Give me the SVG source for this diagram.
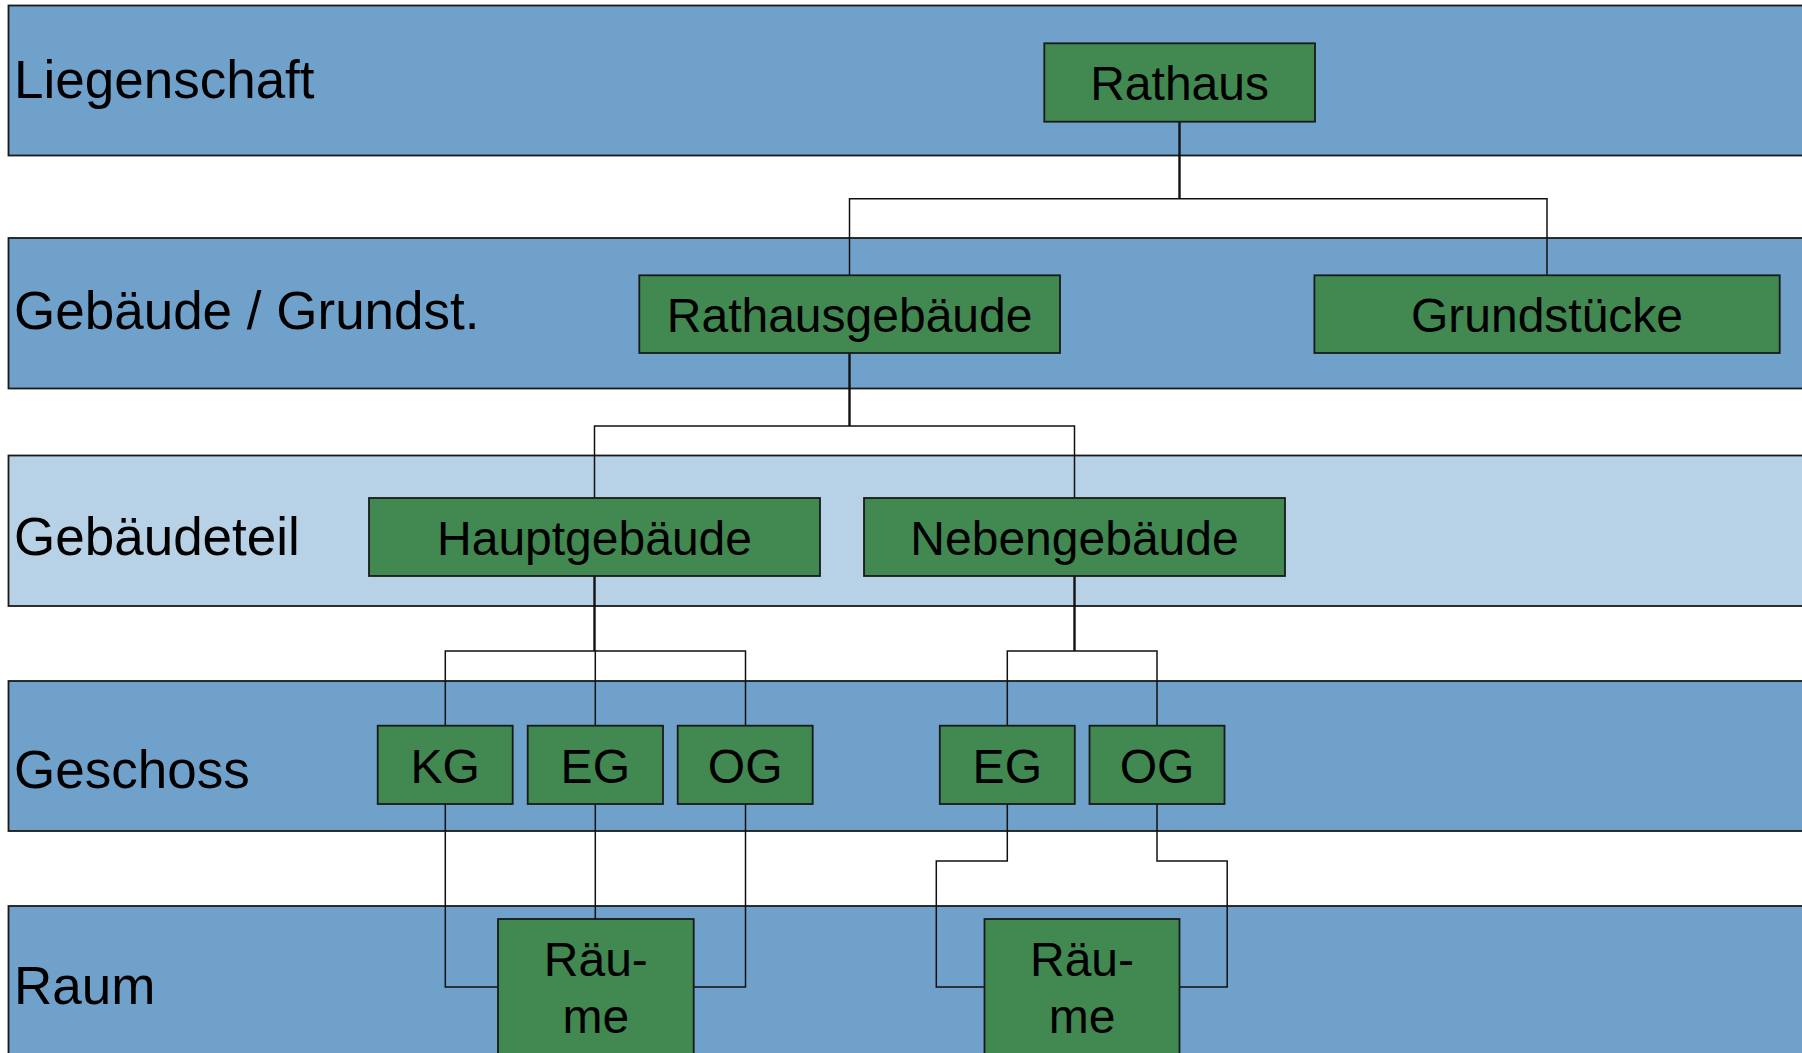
<svg xmlns="http://www.w3.org/2000/svg" width="1802" height="1053" viewBox="0 0 1802 1053">
<style>
.band{fill:#6fa1cb;stroke:#1a1a1a;stroke-width:1.8}
.band.light{fill:#b7d1e6}
.box{fill:#418851;stroke:#1a1a1a;stroke-width:1.8}
.lbl{font-family:"Liberation Sans",Arial,sans-serif;font-size:53px;fill:#000}
.txt{font-family:"Liberation Sans",Arial,sans-serif;font-size:48px;fill:#000;text-anchor:middle}
.stem{fill:none;stroke:#111;stroke-width:2.4}
.br{fill:none;stroke:#111;stroke-width:1.5}
</style>
<rect x="0" y="0" width="1802" height="1053" fill="#fff"/>
<g id="bands">
<g id="band-liegenschaft"><rect class="band" x="8.5" y="5.5" width="1810" height="150"/><text class="lbl" x="14" y="98">Liegenschaft</text></g>
<g id="band-gebaeude"><rect class="band" x="8.5" y="238" width="1810" height="150.5"/><text class="lbl" x="14" y="329">Gebäude / Grundst.</text></g>
<g id="band-gebaeudeteil"><rect class="band light" x="8.5" y="455.5" width="1810" height="150.5"/><text class="lbl" x="14" y="555">Gebäudeteil</text></g>
<g id="band-geschoss"><rect class="band" x="8.5" y="681" width="1810" height="150"/><text class="lbl" x="14" y="788">Geschoss</text></g>
<g id="band-raum"><rect class="band" x="8.5" y="906" width="1810" height="170"/><text class="lbl" x="14" y="1004">Raum</text></g>
</g>
<g id="connectors">
<path class="stem" d="M1179.5 121.7V198.7"/>
<path class="br" d="M849.5 275.3V198.7H1547V275.3"/>
<path class="stem" d="M849.5 353V426"/>
<path class="br" d="M594.5 498V426H1074.5V498"/>
<path class="stem" d="M594.5 576V651"/>
<path class="br" d="M445.3 725.7V651H745.5V725.7M595.3 651V725.7"/>
<path class="stem" d="M1074.5 576V651"/>
<path class="br" d="M1007.3 725.7V651H1157V725.7"/>
<path class="br" d="M445.3 804V987H498"/>
<path class="br" d="M595.3 804V919"/>
<path class="br" d="M745.5 804V987H693.7"/>
<path class="br" d="M1007.3 804V861H936.3V987H984.5"/>
<path class="br" d="M1157 804V861H1227.2V987H1179.5"/>
</g>
<g id="node-rathaus"><rect class="box" x="1044.3" y="43.3" width="270.7" height="78.4"/><text class="txt" x="1179.6" y="100">Rathaus</text></g>
<g id="node-rathausgebaeude"><rect class="box" x="639.3" y="275.3" width="420.7" height="77.7"/><text class="txt" x="849.6" y="331.7">Rathausgebäude</text></g>
<g id="node-grundstuecke"><rect class="box" x="1314.4" y="275.3" width="465.3" height="77.7"/><text class="txt" x="1547" y="331.7">Grundstücke</text></g>
<g id="node-hauptgebaeude"><rect class="box" x="369" y="498" width="451" height="78"/><text class="txt" x="594.5" y="554.5">Hauptgebäude</text></g>
<g id="node-nebengebaeude"><rect class="box" x="864" y="498" width="421" height="78"/><text class="txt" x="1074.5" y="554.5">Nebengebäude</text></g>
<g id="node-kg"><rect class="box" x="377.7" y="725.7" width="135" height="78.3"/><text class="txt" x="445.2" y="782.5">KG</text></g>
<g id="node-eg1"><rect class="box" x="527.7" y="725.7" width="135.3" height="78.3"/><text class="txt" x="595.3" y="782.5">EG</text></g>
<g id="node-og1"><rect class="box" x="677.7" y="725.7" width="135" height="78.3"/><text class="txt" x="745.2" y="782.5">OG</text></g>
<g id="node-eg2"><rect class="box" x="939.8" y="725.7" width="135" height="78.3"/><text class="txt" x="1007.3" y="782.5">EG</text></g>
<g id="node-og2"><rect class="box" x="1089.5" y="725.7" width="135" height="78.3"/><text class="txt" x="1157" y="782.5">OG</text></g>
<g id="node-raeume1"><rect class="box" x="498" y="919" width="195.7" height="160"/><text class="txt" x="595.8" y="976">Räu-</text><text class="txt" x="595.8" y="1033.3">me</text></g>
<g id="node-raeume2"><rect class="box" x="984.5" y="919" width="195" height="160"/><text class="txt" x="1082" y="976">Räu-</text><text class="txt" x="1082" y="1033.3">me</text></g>
</svg>
